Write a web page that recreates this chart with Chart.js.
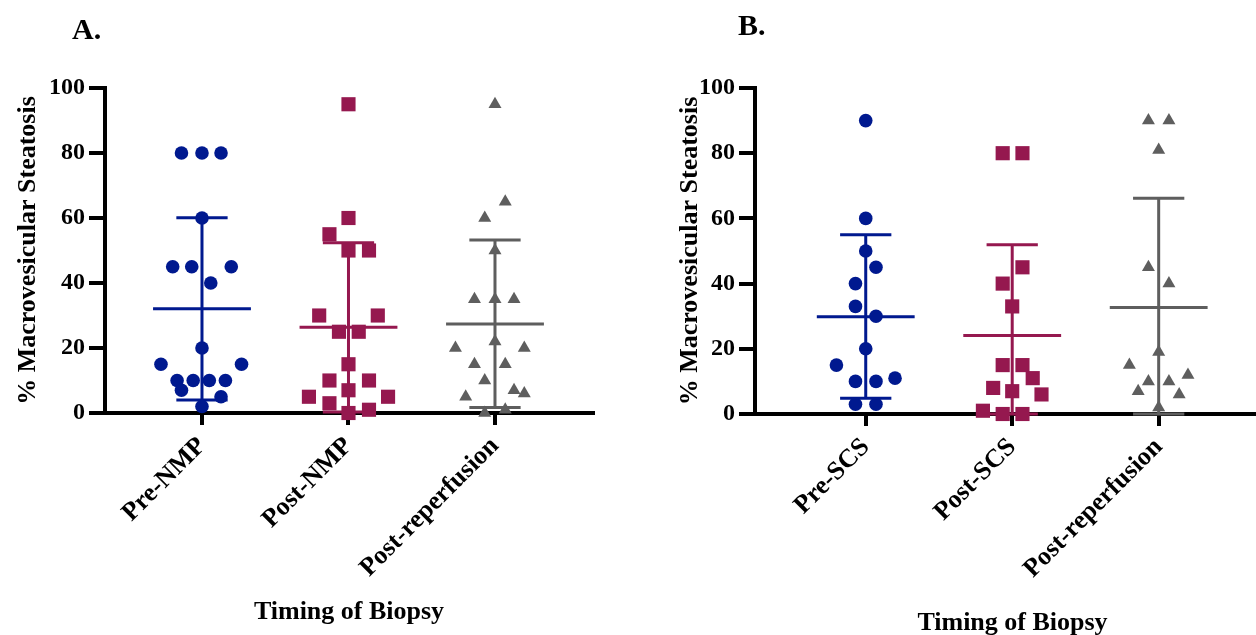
<!DOCTYPE html>
<html><head><meta charset="utf-8">
<script src="https://cdn.jsdelivr.net/npm/chart.js@4.4.1/dist/chart.umd.min.js"></script>
<style>
html,body{margin:0;padding:0;background:#fff;overflow:hidden;width:1256px;height:635px;}
#wrap{position:relative;width:1256px;height:635px;overflow:hidden;background:#fff;}
canvas{position:absolute;top:0;}
#cA{left:0;}
#cB{left:620px;}
.panel{position:absolute;font:bold 30px "Liberation Serif","Times New Roman",serif;color:#000;line-height:30px;}
</style></head><body>
<div id="wrap">
<canvas id="cA" width="620" height="635"></canvas>
<canvas id="cB" width="670" height="645"></canvas>
<div class="panel" style="left:72px;top:14px">A.</div>
<div class="panel" style="left:738px;top:10px">B.</div>
</div>
<script>
// ---- data ----
const categoriesA = ['Pre-NMP', 'Post-NMP', 'Post-reperfusion'];
const categoriesB = ['Pre-SCS', 'Post-SCS', 'Post-reperfusion'];
const yTickValues = [0, 20, 40, 60, 80, 100];
const yTitle = '% Macrovesicular Steatosis';
const xTitle = 'Timing of Biopsy';

// Panel A values (% macrovesicular steatosis)
const preNMP = [80, 80, 80, 60, 45, 45, 45, 40, 20, 15, 15, 10, 10, 10, 10, 7, 5, 2];
const postNMP = [95, 60, 55, 50, 50, 30, 30, 25, 25, 15, 10, 10, 7, 5, 5, 3, 1, 0];
const postReperfusionA = [95, 65, 60, 50, 35, 35, 35, 22, 20, 20, 15, 15, 10, 7, 6, 5, 1, 0];
// Panel A mean and SD bar ends
const meanA = [32.1, 26.4, 27.4];
const sdLowA = [4.0, 0.3, 1.7];
const sdHighA = [60.1, 52.4, 53.2];

// Panel B values
const preSCS = [90, 60, 50, 45, 40, 33, 30, 20, 15, 11, 10, 10, 3, 3];
const postSCS = [80, 80, 45, 40, 33, 15, 15, 11, 8, 7, 6, 1, 0, 0];
const postReperfusionB = [90, 90, 81, 45, 40, 19, 15, 12, 10, 10, 7, 6, 2];
// Panel B mean and SD bar ends
const meanB = [29.8, 24.1, 32.7];
const sdLowB = [4.8, 0, 0];
const sdHighB = [55.0, 51.9, 66.2];

// ---- scatter spread (horizontal offsets, in category units) ----
const spreadPreNMP = [-0.14, 0, 0.13, 0, -0.20, -0.07, 0.20, 0.06, 0, -0.28, 0.27, -0.17, -0.06, 0.05, 0.16, -0.14, 0.13, 0];
const spreadPostNMP = [0, 0, -0.13, 0, 0.14, -0.20, 0.20, -0.065, 0.07, 0, -0.13, 0.14, 0, -0.27, 0.27, -0.13, 0.14, 0];
const spreadPostRepA = [0, 0.07, -0.07, 0, -0.14, 0, 0.13, 0, -0.27, 0.20, -0.14, 0.07, -0.07, 0.13, 0.20, -0.20, 0.07, -0.07];
const spreadPreSCS = [0, 0, 0, 0.07, -0.07, -0.07, 0.07, 0, -0.20, 0.20, -0.07, 0.07, -0.07, 0.07];
const spreadPostSCS = [-0.065, 0.07, 0.07, -0.065, 0, -0.065, 0.07, 0.14, -0.13, 0, 0.20, -0.20, -0.065, 0.07];
const spreadPostRepB = [-0.07, 0.07, 0, -0.07, 0.07, 0, -0.20, 0.20, -0.07, 0.07, -0.14, 0.14, 0];

// ---- styles ----
const FONT = '"Liberation Serif", "Times New Roman", serif';
const colors = ['#00198F', '#95184F', '#5E5E5E'];
const pointStyles = ['circle', 'rect', 'triangle'];
const pointRadii = [6.8, 10, 7.5];
const MEAN_HALF = 0.334;
const CAP_HALF = 0.175;

function buildDatasets(groups, spreads, means, lows, highs) {
  const ds = [];
  groups.forEach((vals, i) => {
    ds.push({
      type: 'scatter',
      data: vals.map((v, k) => ({ x: i + 1 + spreads[i][k], y: v })),
      pointStyle: pointStyles[i],
      pointRadius: pointRadii[i],
      pointHoverRadius: pointRadii[i],
      backgroundColor: colors[i],
      borderColor: colors[i],
      borderWidth: 0,
      order: 0,
      clip: false
    });
  });
  groups.forEach((vals, i) => {
    const c = i + 1, m = means[i], lo = lows[i], hi = highs[i];
    const gap = { x: c, y: null };
    ds.push({
      type: 'line',
      data: [
        { x: c - MEAN_HALF, y: m }, { x: c + MEAN_HALF, y: m }, gap,
        { x: c - CAP_HALF, y: hi }, { x: c + CAP_HALF, y: hi }, gap,
        { x: c - CAP_HALF, y: lo }, { x: c + CAP_HALF, y: lo }, gap,
        { x: c, y: lo }, { x: c, y: hi }
      ],
      borderColor: colors[i],
      borderWidth: 3,
      pointRadius: 0,
      pointHoverRadius: 0,
      spanGaps: false,
      fill: false,
      tension: 0,
      order: 1,
      clip: false
    });
  });
  return ds;
}

function makeChart(id, cats, groups, spreads, means, lows, highs, L) {
  return new Chart(document.getElementById(id), {
    type: 'scatter',
    data: { datasets: buildDatasets(groups, spreads, means, lows, highs) },
    options: {
      responsive: false,
      animation: false,
      events: [],
      layout: { padding: { top: 88, left: 0, right: L.padRight, bottom: L.padBottom } },
      plugins: { legend: { display: false }, tooltip: { enabled: false }, title: { display: false } },
      scales: {
        x: {
          type: 'linear',
          min: L.xMin, max: L.xMax,
          afterBuildTicks: s => { s.ticks = [1, 2, 3].map(v => ({ value: v })); },
          afterFit: s => { s.height = L.xHeight; s.paddingLeft = 0; s.paddingRight = 0; },
          ticks: {
            autoSkip: false, minRotation: 45, maxRotation: 45, padding: 6,
            color: '#000', font: { family: FONT, size: 26, weight: 'bold' },
            callback: v => cats[Math.round(v) - 1]
          },
          grid: { drawOnChartArea: false, drawTicks: true, tickLength: 12, lineWidth: 4, color: '#000' },
          border: { display: true, color: '#000', width: 4 },
          title: { display: true, text: xTitle, color: '#000', font: { family: FONT, size: 26, weight: 'bold' }, padding: { top: 0, bottom: 0 } }
        },
        y: {
          type: 'linear', min: 0, max: 100,
          afterBuildTicks: s => { s.ticks = yTickValues.map(v => ({ value: v })); },
          afterFit: s => { s.width = L.yWidth; },
          ticks: { padding: 4, color: '#000', font: { family: FONT, size: 24, weight: 'bold' } },
          grid: { drawOnChartArea: false, drawTicks: true, tickLength: 16, lineWidth: 4, color: '#000' },
          border: { display: true, color: '#000', width: 4 },
          title: { display: true, text: yTitle, color: '#000', font: { family: FONT, size: 26, weight: 'bold' }, padding: { top: L.yTitlePad, bottom: 0 } }
        }
      }
    }
  });
}

makeChart('cA', categoriesA,
  [preNMP, postNMP, postReperfusionA],
  [spreadPreNMP, spreadPostNMP, spreadPostRepA],
  meanA, sdLowA, sdHighA,
  { xMin: 0.338, xMax: 3.669, yWidth: 105, xHeight: 215, padBottom: 7, padRight: 27, yTitlePad: 13 });

makeChart('cB', categoriesB,
  [preSCS, postSCS, postReperfusionB],
  [spreadPreSCS, spreadPostSCS, spreadPostRepB],
  meanB, sdLowB, sdHighB,
  { xMin: 0.244, xMax: 3.76, yWidth: 135, xHeight: 225, padBottom: 6, padRight: 20, yTitlePad: 55 });
</script>
</body></html>
